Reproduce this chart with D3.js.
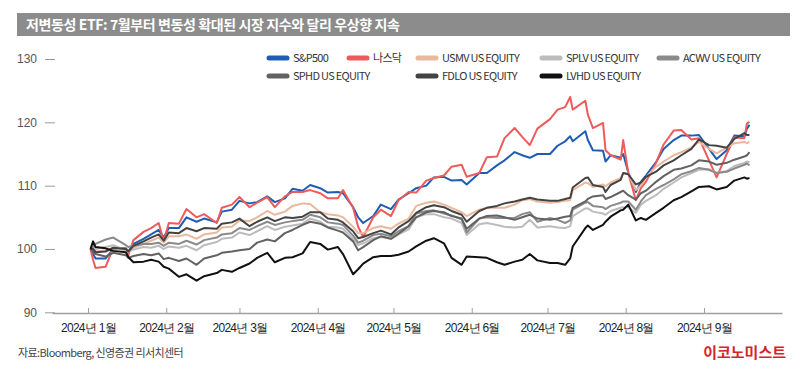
<!DOCTYPE html>
<html>
<head>
<meta charset="utf-8">
<script src="https://cdn.jsdelivr.net/npm/d3@7"></script>
<style>
  body { margin: 0; background: #fff; }
  svg { display: block; font-family: "Noto Sans CJK KR", "Noto Sans", sans-serif; }
</style>
</head>
<body>
<div id="chart"></div>
<script>
// sample dates (2024)
var dates = ["01-02","01-03","01-04","01-08","01-11","01-16","01-17","01-19","01-23","01-26","01-29","01-31",
  "02-02","02-06","02-09","02-13","02-16","02-21","02-23","02-27",
  "03-01","03-05","03-08","03-12","03-15","03-19","03-22","03-26","03-29",
  "04-02","04-05","04-09","04-11","04-15","04-17","04-19","04-23","04-26","04-30",
  "05-03","05-07","05-10","05-14","05-17","05-21","05-24","05-28","05-30",
  "06-04","06-07","06-11","06-14","06-18","06-21","06-24","06-27",
  "07-02","07-05","07-08","07-10","07-11","07-16","07-17","07-19","07-23","07-24","07-26","07-30","07-31",
  "08-02","08-05","08-07","08-09","08-13","08-16","08-20","08-23","08-27","08-30",
  "09-03","09-06","09-10","09-13","09-17","09-18","09-19"];

var sp500 = [100, 99.2, 98.5, 98.5, 100.0, 100.1, 99.6, 100.8, 101.6, 102.3, 103.0, 101.8,
  103.3, 103.3, 105.0, 104.3, 104.8, 104.2, 105.9, 106.2,
  107.6, 107.2, 107.4, 108.3, 107.4, 108.0, 109.5, 109.2, 110.1,
  109.6, 108.9, 109.0, 108.8, 106.6, 105.0, 104.1, 105.2, 107.0, 106.3,
  107.8, 108.8, 109.6, 110.0, 111.3, 111.4, 110.8, 110.9, 110.2,
  112.0, 112.0, 113.2, 114.0, 115.3, 114.8, 114.4, 115.0,
  115.0, 116.3, 117.0, 117.8, 117.0, 118.6, 117.2, 115.6, 115.5, 113.8, 114.8, 114.4, 115.0,
  112.1, 109.0, 110.6, 111.6, 113.7, 115.8, 117.2, 117.9, 117.9, 118.0,
  115.8, 114.2, 115.6, 117.9, 117.8, 119.0, 119.6];

var nasdaq = [100, 98.3, 97.0, 97.2, 100.2, 100.1, 99.0, 101.4, 102.7, 103.3, 104.1, 101.2,
  104.1, 104.0, 106.3, 105.0, 105.5, 104.1, 106.5, 107.0,
  108.2, 106.6, 107.3, 108.2, 106.6, 108.3, 109.0, 109.0, 109.3,
  108.8, 108.0, 108.0, 109.3, 106.5, 103.5, 101.9, 105.0, 106.2, 105.2,
  107.7, 109.0, 108.9, 110.8, 111.2, 111.6, 113.0, 113.3, 111.4,
  112.0, 114.5, 114.6, 117.5, 119.1, 117.7, 116.4, 119.0,
  120.5, 122.0, 122.4, 124.0, 122.0, 123.4, 121.2, 119.1, 119.9, 115.6, 114.8, 114.1, 117.2,
  112.0, 107.7, 109.6, 110.6, 113.6, 116.5, 118.7, 118.8, 117.3, 117.5,
  114.0, 111.3, 115.0, 117.6, 117.5, 119.8, 120.1];

var usmv = [100, 100.2, 99.6, 99.8, 100.1, 99.8, 99.5, 100.2, 100.8, 101.3, 101.8, 101.0,
  102.0, 102.0, 102.3, 101.6, 102.3, 102.6, 103.4, 103.5,
  104.5, 104.4, 105.0, 106.0, 105.4, 105.9, 106.8, 107.2, 107.1,
  105.8, 105.5, 105.3, 105.0, 103.5, 102.5, 102.5, 103.3, 103.6, 103.2,
  104.0, 104.8, 106.8, 107.3, 107.5, 107.0, 106.5, 105.8, 105.2,
  106.2, 106.5, 106.5, 106.5, 107.0, 107.7, 107.9, 107.5,
  107.3, 107.4, 107.6, 107.7, 109.3, 110.5, 110.4, 109.8, 110.2, 109.9, 110.5, 111.2, 112.0,
  111.9, 109.3, 110.0, 111.3, 113.0, 113.8, 114.8, 115.3, 116.0, 116.9,
  115.8, 115.1, 116.0, 116.7, 116.9, 116.7, 116.9];

var splv = [100, 100.3, 100.0, 100.3, 100.6, 99.8, 99.6, 99.9, 100.3, 100.2, 100.5, 100.0,
  100.4, 100.2, 100.5, 99.8, 100.6, 101.1, 101.6, 101.8,
  102.6, 102.2, 102.8, 103.6, 103.0, 103.5, 103.7, 104.0, 104.8,
  104.3, 103.5, 103.4, 103.2, 101.6, 100.6, 100.9, 101.7, 101.9, 101.6,
  102.3, 103.1, 105.0, 105.5, 105.5, 105.0, 104.8, 104.1, 102.2,
  103.9, 104.1, 103.8, 103.5, 103.4, 103.5, 104.6, 103.4,
  103.6, 103.4, 103.3, 103.6, 105.2, 106.4, 106.4, 105.9, 105.6, 105.4, 106.0, 106.5, 106.6,
  106.6, 105.7, 107.0, 107.6, 108.5, 109.5, 110.5, 111.3, 112.0, 112.5,
  112.6, 112.0, 112.3, 113.1, 113.6, 113.8, 113.7];

var acwv = [100, 100.4, 100.8, 101.5, 101.8, 100.6, 100.3, 100.5, 100.8, 100.8, 101.0, 100.5,
  101.0, 100.8, 101.3, 100.7, 101.4, 101.8, 102.3, 102.5,
  103.3, 103.0, 103.6, 104.3, 103.8, 104.2, 104.4, 104.6, 105.4,
  105.0, 104.2, 104.0, 103.8, 102.1, 101.0, 101.3, 102.2, 102.4, 102.0,
  102.8, 103.6, 105.6, 106.0, 106.1, 105.6, 105.3, 104.7, 102.6,
  104.8, 105.0, 104.9, 104.9, 104.9, 105.5, 105.8, 104.3,
  104.9, 104.6, 104.1, 104.5, 106.2, 107.3, 107.4, 106.8, 106.6, 106.3, 106.8, 107.3, 107.5,
  107.5, 106.2, 107.5, 108.5, 109.5, 110.1, 111.0, 111.8, 112.3, 112.8,
  112.5, 112.0, 112.2, 112.7, 113.3, 113.5, 113.2];

var sphd = [100, 99.6, 99.2, 98.8, 99.4, 99.0, 98.6, 98.9, 99.2, 99.0, 99.3, 98.4,
  98.6, 98.1, 98.5, 97.5, 98.5, 99.0, 99.4, 99.6,
  99.8, 100.0, 101.0, 101.5, 101.2, 102.5, 103.0, 103.8, 104.3,
  104.0, 103.4, 102.9, 102.6, 101.2, 99.8, 100.3, 101.4, 102.0, 101.6,
  102.4, 103.6, 105.0, 105.8, 106.0, 105.8, 105.2, 104.8, 103.2,
  104.8, 105.2, 105.3, 105.0, 104.6, 105.0, 105.4, 104.8,
  104.6, 104.8, 105.1, 105.2, 106.5, 107.5, 107.9, 108.3, 108.5, 107.9, 108.2, 109.0, 109.2,
  108.5, 107.8, 108.8, 109.2, 110.6, 111.5, 112.5, 112.7, 113.2, 114.0,
  113.8, 113.3, 113.6, 114.1, 114.6, 114.8, 115.3];

var fdlo = [100, 100.0, 99.5, 99.6, 100.2, 100.0, 99.6, 100.5, 101.2, 101.8, 102.3, 101.3,
  102.6, 102.5, 103.3, 102.8, 103.3, 103.2, 104.0, 104.2,
  104.8, 103.6, 104.3, 105.0, 104.4, 105.0, 104.9, 105.1, 105.8,
  105.8, 104.8, 104.6, 104.2, 102.8, 101.7, 101.9, 102.5, 102.9, 102.3,
  103.4, 104.4, 105.7, 106.6, 106.9, 106.6, 106.0, 105.4, 104.3,
  106.0, 106.5, 106.8, 107.2, 107.5, 107.8, 108.1, 107.8,
  107.6, 107.6, 107.9, 108.1, 109.7, 111.2, 111.3, 110.1, 109.8, 109.0, 110.1, 110.9, 112.0,
  111.8, 110.2, 110.5, 111.4, 112.2, 113.2, 114.0, 114.8, 115.8, 117.3,
  116.4, 116.3, 116.0, 117.4, 118.3, 118.0, 118.0];

var lvhd = [100, 101.2, 100.3, 100.1, 99.7, 99.5, 98.7, 97.9, 98.0, 98.3, 98.0, 97.2,
  96.9, 95.6, 96.0, 95.0, 95.7, 96.2, 96.7, 96.4,
  97.0, 97.7, 98.6, 99.4, 97.9, 98.6, 98.7, 99.3, 101.1,
  100.8, 99.9, 100.3, 99.2, 96.0, 96.8, 97.7, 98.7, 98.9, 98.9,
  99.1, 99.6, 100.4, 101.3, 101.7, 100.9, 98.6, 97.5, 98.8,
  98.7, 98.6, 97.9, 97.5, 98.0, 98.3, 99.2, 98.2,
  97.8, 97.8, 97.5, 98.5, 100.4, 103.3, 103.7, 103.0, 103.8, 104.3, 105.1, 106.1, 106.2,
  107.0, 104.5, 104.9, 104.6, 105.7, 106.5, 107.7, 108.2, 109.1, 109.8,
  109.9, 109.4, 109.8, 110.8, 111.3, 111.1, 111.2];

var seriesNames = ["S&P500", "나스닥", "USMV US EQUITY", "SPLV US EQUITY", "ACWV US EQUITY",
  "SPHD US EQUITY", "FDLO US EQUITY", "LVHD US EQUITY"];
var seriesValues = [sp500, nasdaq, usmv, splv, acwv, sphd, fdlo, lvhd];
var seriesColors = ["#1f5cb3", "#ef5b5b", "#eab89c", "#bcbcbc", "#8a8a8a", "#626262", "#434343", "#111111"];

var yTicks = [90, 100, 110, 120, 130];
var monthTicks = ["2024-01-01", "2024-02-01", "2024-03-01", "2024-04-01", "2024-05-01",
  "2024-06-01", "2024-07-01", "2024-08-01", "2024-09-01"];

var width = 800, height = 376;

var svg = d3.select("#chart")
  .append("svg")
    .attr("width", width)
    .attr("height", height);

// title bar
svg.append("rect")
  .attr("x", 17).attr("y", 13)
  .attr("width", 773).attr("height", 23)
  .attr("fill", "#8c8c8c");
svg.append("text")
  .attr("x", 26).attr("y", 30)
  .attr("fill", "#fff")
  .style("font-size", "14px")
  .style("font-weight", "bold")
  .style("letter-spacing", "-0.4px")
  .text("저변동성 ETF: 7월부터 변동성 확대된 시장 지수와 달리 우상향 지속");

var parse = d3.timeParse("%Y-%m-%d");
var dateObjs = dates.map(function(d) { return parse("2024-" + d); });

// X scale: Jan 1 -> 88px, Sep 1 -> 704px, extended to axis line ends
var x = d3.scaleTime()
  .domain([parse("2024-01-01"), parse("2024-09-01")])
  .range([88, 704]);
x.domain([x.invert(52), x.invert(782)]).range([52, 782]);

var y = d3.scaleLinear()
  .domain([90, 130])
  .range([312.3, 59]);

// Y axis
var yAxis = svg.append("g")
  .attr("transform", "translate(55,0)")
  .call(d3.axisLeft(y).tickValues(yTicks).tickSize(10).tickPadding(8));
yAxis.select(".domain").remove();
yAxis.selectAll("line").attr("stroke", "#9a9a9a");
yAxis.selectAll("text")
  .attr("fill", "#555")
  .style("font-family", "'Liberation Sans', Arial, sans-serif")
  .style("font-size", "12px");

// X axis
var xAxis = svg.append("g")
  .attr("transform", "translate(0,313)")
  .call(d3.axisBottom(x)
    .tickValues(monthTicks.map(parse))
    .tickFormat(d3.timeFormat("%Y년 %-m월"))
    .tickSizeInner(-5).tickSizeOuter(0).tickPadding(10));
xAxis.select(".domain").attr("stroke", "#a0a0a0").attr("stroke-width", 1.5);
xAxis.selectAll("line").attr("stroke", "#a0a0a0");
xAxis.selectAll("text")
  .attr("fill", "#222")
  .style("font-size", "12px")
  .style("letter-spacing", "-0.7px");

// lines
var line = d3.line()
  .x(function(d, i) { return x(dateObjs[i]); })
  .y(function(d) { return y(d); });

svg.selectAll(".series")
  .data(seriesValues)
  .enter()
  .append("path")
    .attr("class", "series")
    .attr("d", line)
    .attr("fill", "none")
    .attr("stroke", function(d, i) { return seriesColors[i]; })
    .attr("stroke-width", 2)
    .attr("stroke-linejoin", "round");

// legend
var legendPos = [[267, 58], [347, 58], [416, 58], [540, 58], [657, 58],
                 [267, 76], [416, 76], [540, 76]];
var legend = svg.selectAll(".legend")
  .data(seriesNames)
  .enter()
  .append("g")
    .attr("class", "legend")
    .attr("transform", function(d, i) { return "translate(" + legendPos[i][0] + "," + legendPos[i][1] + ")"; });
legend.append("line")
  .attr("x1", 2).attr("x2", 20)
  .attr("stroke", function(d, i) { return seriesColors[i]; })
  .attr("stroke-width", 5)
  .attr("stroke-linecap", "round");
legend.append("text")
  .attr("x", 26).attr("y", 4)
  .attr("fill", "#333")
  .style("font-size", "11px")
  .style("letter-spacing", "-0.7px")
  .text(function(d) { return d; });

// footer
svg.append("text")
  .attr("x", 18).attr("y", 357)
  .attr("fill", "#444")
  .style("font-size", "11px")
  .style("letter-spacing", "-0.6px")
  .text("자료:Bloomberg, 신영증권 리서치센터");
svg.append("text")
  .attr("x", 786).attr("y", 358)
  .attr("text-anchor", "end")
  .attr("fill", "#d7232b")
  .style("font-size", "15px")
  .style("font-weight", "bold")
  .text("이코노미스트");
</script>
</body>
</html>
